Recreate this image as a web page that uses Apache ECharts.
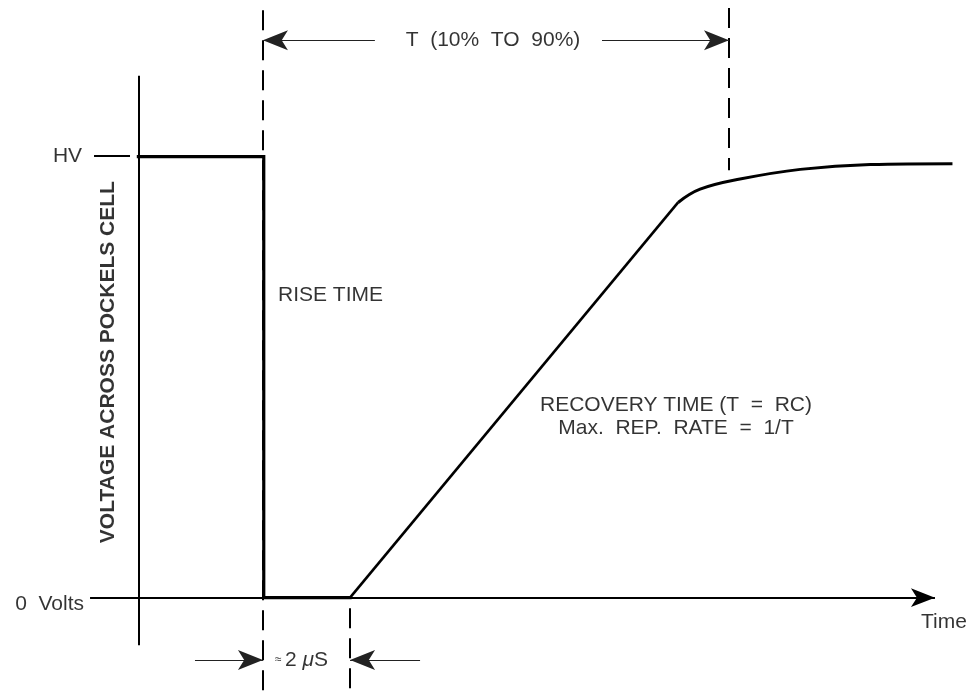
<!DOCTYPE html>
<html><head><meta charset="utf-8">
<script src="https://cdn.jsdelivr.net/npm/echarts@6/dist/echarts.min.js"></script>
<style>html,body{margin:0;padding:0;background:#fff}#c{width:972px;height:696px}</style>
</head><body><div id="c"></div><script>
// Time in arbitrary units (0 = y axis, 100 = right end), voltage in % of HV
const stepTime   = [0, 15.4, 15.4, 26.0];
const stepVolt   = [100, 100, 0, 0];
const rampTime   = [26.0, 66.3];
const rampVolt   = [0, 89.6];
const settleTime = [66.3, 69.0, 73.9, 81.3, 89.9, 100];
const settleVolt = [89.6, 92.6, 94.9, 97.1, 98.2, 98.4];

// reference marks (time, volt)
const fallTime = 15.3, recoverTime = 26.0, ninetyTime = 72.55;
const axisLabels = ['HV', '0  Volts', 'Time'];
const yTitle = 'VOLTAGE ACROSS POCKELS CELL';
const tLabel = 'T  (10%  TO  90%)';
const riseLabel = 'RISE TIME';
const recLabel = ['RECOVERY TIME (T  =  RC)', 'Max.  REP.  RATE  =  1/T'];

const zip = (a, b) => a.map((v, i) => [v, b[i]]);
const seg = (x1, y1, x2, y2) => [{coord: [x1, y1]}, {coord: [x2, y2]}];
const FONT = 'Liberation Sans';
const INK = '#000';
const lbl = (o) => Object.assign({color: INK, fontFamily: FONT, fontSize: 21, verticalAlign: 'middle'}, o);

const chart = echarts.init(document.getElementById('c'), null, {renderer: 'canvas'});
const option = {
  animation: false,
  backgroundColor: '#fff',
  grid: {left: 0, right: 0, top: 0, bottom: 0},
  xAxis: {type: 'value', min: -17, max: 102.4, show: false},
  yAxis: {type: 'value', min: -22.3, max: 135.5, show: false},
  series: [
    {type: 'line', name: 'step', data: zip(stepTime, stepVolt), symbol: 'none',
     lineStyle: {color: INK, width: 3.2, join: 'miter', cap: 'square'}},
    {type: 'line', name: 'ramp', data: zip(rampTime, rampVolt), symbol: 'none',
     lineStyle: {color: INK, width: 2.6}},
    {type: 'line', name: 'settle', data: zip(settleTime, settleVolt), symbol: 'none', smooth: 0.4,
     lineStyle: {color: INK, width: 3}},
    // axes
    {type: 'line', name: 'axes', data: [], markLine: {
      silent: true, animation: false, label: {show: false}, symbol: ['none', 'none'],
      lineStyle: {color: INK, width: 2, type: 'solid'},
      data: [
        seg(0, -10.8, 0, 118.3),
        seg(-5.45, 100.1, -1.03, 100.1),
        [{coord: [-5.94, 0], symbol: 'none'}, {coord: [97.85, 0], symbol: 'arrow', symbolSize: [14, 24]}]
      ]}},
    // dashed reference lines
    {type: 'line', name: 'dashed', data: [], markLine: {
      silent: true, animation: false, label: {show: false}, symbol: ['none', 'none'],
      lineStyle: {color: INK, width: 2, type: [20, 10]},
      data: [
        seg(fallTime, 133.2, fallTime, -21.9),
        seg(ninetyTime, 133.7, ninetyTime, 96.9),
        seg(recoverTime, -2.4, recoverTime, -21.4)
      ]}},
    // dimension arrows
    {type: 'line', name: 'dims', data: [], markLine: {
      silent: true, animation: false, label: {show: false}, symbol: ['none', 'arrow'], symbolSize: [15, 25],
      lineStyle: {color: '#222', width: 1.2, type: 'solid'},
      data: [
        seg(29.05, 126.4, fallTime, 126.4),
        seg(56.95, 126.4, ninetyTime, 126.4),
        seg(6.95, -14.15, fallTime, -14.15),
        seg(34.6, -14.15, recoverTime, -14.15)
      ]}},
    // labels
    {type: 'scatter', name: 'labels', symbolSize: 0, silent: true,
     itemStyle: {color: INK},
     data: [
       {value: [-6.92, 100], label: lbl({formatter: axisLabels[0], align: 'right'})},
       {value: [-6.68, -1.45], label: lbl({formatter: axisLabels[1], align: 'right'})},
       {value: [98.95, -5.5], label: lbl({formatter: axisLabels[2], align: 'center'})},
       {value: [17.15, 68.6], label: lbl({formatter: riseLabel, align: 'left'})},
       {value: [66.04, 41.0], label: lbl({formatter: recLabel.join('\n'), align: 'center', lineHeight: 23})},
       {value: [43.56, 126.4], label: lbl({formatter: tLabel, align: 'center'})},
       {value: [16.78, -14.15], label: lbl({formatter: '{s|≈ }{n|2 }{m|μ}{n|S}', align: 'left',
         rich: {s: {fontSize: 12, fontFamily: FONT, color: INK}, n: {fontSize: 21, fontFamily: FONT, color: INK},
                m: {fontSize: 21, fontFamily: FONT, fontStyle: 'italic', color: INK}}})},
       {value: [-3.67, 53.4], label: lbl({formatter: yTitle, align: 'center', rotate: 90, fontWeight: 'bold'})}
     ],
     label: {show: true, position: 'inside', color: INK}}
  ]
};
chart.setOption(option);
</script></body></html>
